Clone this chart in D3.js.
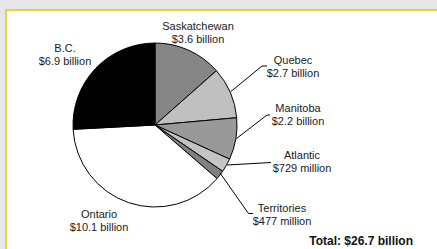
<!DOCTYPE html>
<html><head><meta charset="utf-8">
<script src="https://cdn.jsdelivr.net/npm/d3@7"></script>
<style>html,body{margin:0;padding:0;background:#e6e7e8;}svg{display:block;}</style>
</head><body>
<script>
const regions = ["Saskatchewan","Quebec","Manitoba","Atlantic","Territories","Ontario","B.C."];
const values = [3.6, 2.7, 2.2, 0.729, 0.477, 10.1, 6.9];
const valueLabels = ["$3.6 billion","$2.7 billion","$2.2 billion","$729 million","$477 million","$10.1 billion","$6.9 billion"];
const fills = ["#858585","#c0c0c0","#999999","#c4c4c4","#808080","#ffffff","#000000"];
const totalLabel = "Total: $26.7 billion";

const W = 437, H = 249;
const svg = d3.select("body").append("svg").attr("width", W).attr("height", H);
svg.append("rect").attr("x",0).attr("y",0).attr("width",W).attr("height",H).attr("fill","#e6e7e8");
svg.append("rect").attr("x",6).attr("y",10).attr("width",W+10).attr("height",H+10)
  .attr("fill","#ffffff").attr("stroke","#f0cd3c").attr("stroke-width",2);

const cx = 155, cy = 125, r = 82;
const pie = d3.pie().sort(null).value(d => d)(values);
const arc = d3.arc().innerRadius(0).outerRadius(r);
const g = svg.append("g").attr("transform", `translate(${cx},${cy})`);
g.selectAll("path").data(pie).join("path")
  .attr("d", arc).attr("fill", (d,i) => fills[i])
  .attr("stroke", "#000").attr("stroke-width", 1);

// label positions (center x, first baseline y) and leader lines
const labelPos = [
  [198, 30], [293, 64], [298, 112], [302, 159], [282, 212], [99, 218], [65, 52]
];
const leaders = {
  1: [[230.7,91.7],[262,66],[267,66]],
  2: [[236.5,138.5],[267,115],[270,115]],
  3: [[227,165],[271,162.5]],
  4: [[220,173],[248.5,213.5],[253,213.5]]
};
const line = d3.line();
Object.entries(leaders).forEach(([k, pts]) => {
  svg.append("path").attr("d", line(pts)).attr("fill","none")
    .attr("stroke","#000").attr("stroke-width",1);
});

regions.forEach((name, i) => {
  const t = svg.append("text").attr("text-anchor","middle")
    .attr("font-family","Liberation Sans, Arial, sans-serif")
    .attr("font-size", 11).attr("fill","#222");
  t.append("tspan").attr("x", labelPos[i][0]).attr("y", labelPos[i][1]).text(name);
  t.append("tspan").attr("x", labelPos[i][0]).attr("y", labelPos[i][1] + 13).text(valueLabels[i]);
});

svg.append("text").attr("x", 413).attr("y", 245).attr("text-anchor","end")
  .attr("font-family","Liberation Sans, Arial, sans-serif")
  .attr("font-size", 12).attr("font-weight","bold").attr("fill","#111").text(totalLabel);
</script>
</body></html>
